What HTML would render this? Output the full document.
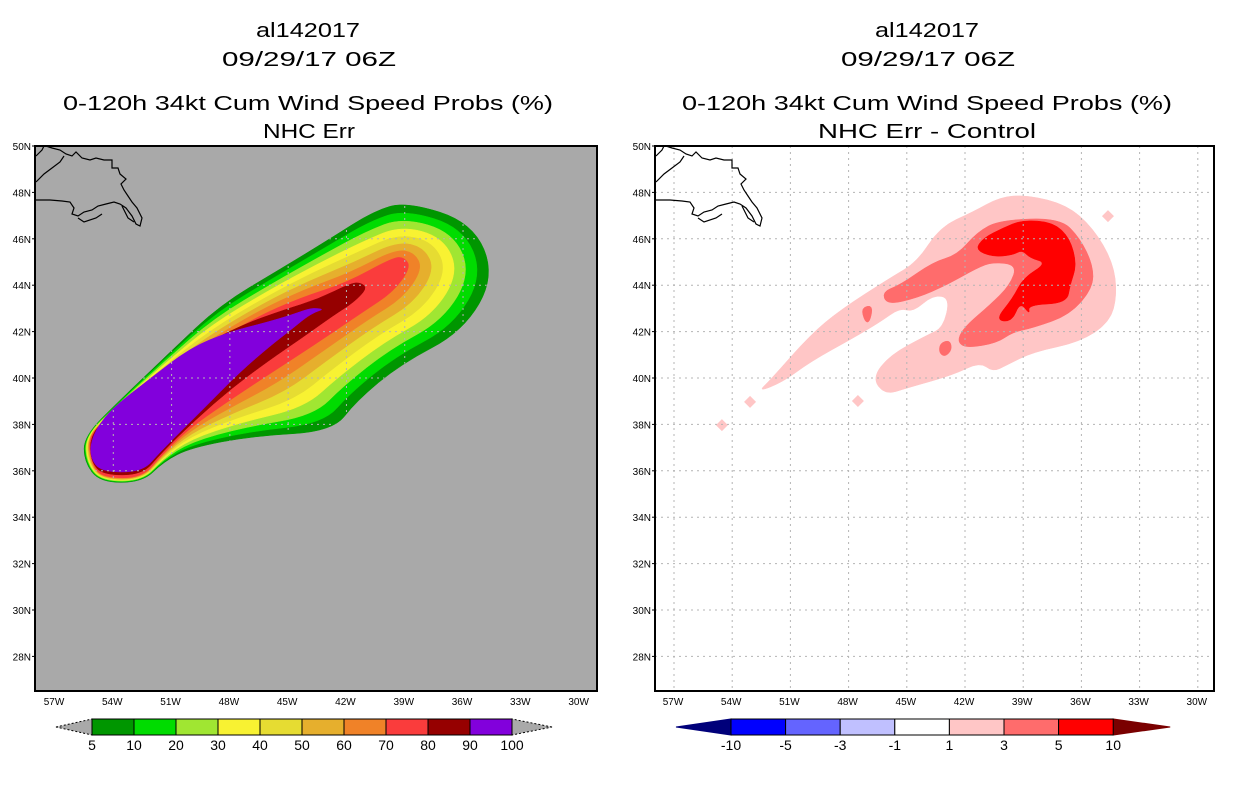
<!DOCTYPE html>
<html><head><meta charset="utf-8"><style>
html,body{margin:0;padding:0;background:#fff;}
svg{display:block;font-family:"Liberation Sans",sans-serif;}
</style></head><body>
<svg id="fig" width="1236" height="800" viewBox="0 0 1236 800" xmlns="http://www.w3.org/2000/svg">
<defs>
<clipPath id="clipL"><rect x="35" y="146" width="562" height="545"/></clipPath>
<clipPath id="clipR"><rect x="655" y="146" width="559" height="545"/></clipPath>
<clipPath id="swathClip"><path id="swathClipPoly" d=""/></clipPath>
</defs>
<g id="titles" font-size="20" text-anchor="middle" fill="#000">
<text x="308" y="37" textLength="104" lengthAdjust="spacingAndGlyphs">al142017</text>
<text x="309" y="66" textLength="174" lengthAdjust="spacingAndGlyphs">09/29/17 06Z</text>
<text x="308" y="110" textLength="490" lengthAdjust="spacingAndGlyphs">0-120h 34kt Cum Wind Speed Probs (%)</text>
<text x="309" y="138" textLength="92" lengthAdjust="spacingAndGlyphs">NHC Err</text>
<text x="927" y="37" textLength="104" lengthAdjust="spacingAndGlyphs">al142017</text>
<text x="928" y="66" textLength="174" lengthAdjust="spacingAndGlyphs">09/29/17 06Z</text>
<text x="927" y="110" textLength="490" lengthAdjust="spacingAndGlyphs">0-120h 34kt Cum Wind Speed Probs (%)</text>
<text x="927" y="138" textLength="218" lengthAdjust="spacingAndGlyphs">NHC Err - Control</text>
</g>
<g id="left-map"></g>
<g id="right-map"></g>
<g id="left-colorbar"></g>
<g id="right-colorbar"></g>
</svg>
<script>
// ---- data ----
const outerContour = [[-55.5,37.5],[-55.5,36.4],[-54.7,35.5],[-52.5,35.5],[-51.4,36.4],[-50.0,37.0],[-46.8,37.5],[-42.7,37.7],[-41.5,39.0],[-39.2,40.6],[-36.0,42.0],[-34.35,44.4],[-35.5,46.7],[-38.9,47.6],[-40.6,47.2],[-42.85,46.0],[-45.4,44.7],[-48.5,43.15],[-51.1,41.1],[-53.65,39.05]];
const midContour = [[-55.3,37.5],[-55.1,36.25],[-54.5,35.7],[-52.5,35.7],[-51.5,36.7],[-50.05,37.85],[-48.35,38.85],[-46.1,40.1],[-43.7,41.4],[-41.15,42.85],[-39.6,43.7],[-38.7,44.75],[-39.0,45.2],[-39.6,45.2],[-42.0,44.1],[-44.4,43.45],[-46.7,42.6],[-49.5,41.2],[-52.1,39.7],[-54.2,38.3]];
const innerContour = [[-55.1,37.5],[-55.2,36.55],[-54.6,35.95],[-52.5,35.95],[-51.6,36.8],[-49.5,38.55],[-47.5,40.25],[-45.9,41.4],[-44.9,42.05],[-44.1,42.6],[-43.6,42.85],[-43.2,42.95],[-43.45,43.0],[-43.9,43.0],[-44.9,42.7],[-46.1,42.4],[-48.0,42.0],[-50.05,41.3],[-52.3,39.85],[-54.2,38.6]];
const probLevels = [5,10,20,30,40,50,60,70,80,90,100];
const probColors = ['#009600','#00dc00','#a0e632','#f8f232','#e6dc32','#e6af2d','#f08228','#fa3c3c','#960000','#8200dc'];

const diffLight = [[-52.67,39.4],[-52.05,39.9],[-49.99,41.85],[-48.44,42.93],[-45.87,44.31],[-44.47,45.0],[-43.29,46.51],[-41.59,47.16],[-40.2,47.8],[-38.8,47.89],[-36.74,47.46],[-35.4,46.47],[-34.37,45.0],[-34.16,43.58],[-34.53,42.41],[-36.07,41.55],[-38.49,41.12],[-39.84,40.56],[-40.56,40.26],[-41.23,40.69],[-42.62,40.13],[-44.99,39.57],[-46.12,39.27],[-46.79,40.0],[-45.87,40.99],[-43.96,41.85],[-43.13,42.16],[-42.77,43.45],[-43.65,43.58],[-44.68,42.84],[-45.35,43.02],[-46.38,42.41],[-47.77,41.72],[-49.99,40.69],[-51.38,39.83]];
const diffMedium = [[-46.28,43.71],[-45.35,44.01],[-43.65,45.0],[-42.41,45.3],[-41.38,46.29],[-40.2,46.81],[-37.1,46.9],[-36.07,46.03],[-35.4,44.87],[-35.4,43.88],[-36.59,42.72],[-38.49,42.16],[-39.53,41.98],[-40.35,41.51],[-41.9,41.29],[-42.41,41.55],[-42.1,42.16],[-40.71,43.15],[-39.68,44.01],[-39.32,44.87],[-40.56,45.0],[-41.38,44.74],[-42.93,44.01],[-44.47,43.45],[-46.02,43.15]];
const diffMediumBlobA = [[-47.36,43.02],[-46.74,43.15],[-46.9,42.41],[-47.16,42.41]];
const diffMediumBlobB = [[-43.29,41.51],[-42.77,41.64],[-42.67,41.21],[-43.03,40.91],[-43.34,41.08]];
const diffRed = [[-41.48,45.52],[-41.07,46.03],[-40.04,46.47],[-39.06,46.81],[-37.46,46.72],[-36.59,46.03],[-36.23,44.87],[-36.59,44.01],[-36.74,43.23],[-38.75,43.15],[-38.65,42.72],[-39.16,43.28],[-39.58,42.41],[-40.45,42.5],[-39.53,43.45],[-39.01,44.31],[-37.77,44.96],[-38.65,45.17],[-39.06,45.52],[-39.53,45.3],[-40.56,45.22]];
const diffDots = [[-53.08,38.97],[-47.52,39.01],[-54.53,37.97],[-34.63,46.98]];

const latTicks = [50,48,46,44,42,40,38,36,34,32,30,28];
const lonTicks = [-57,-54,-51,-48,-45,-42,-39,-36,-33,-30];
const diffLevels = ['-10','-5','-3','-1','1','3','5','10'];
const diffColors = ['#0000ff','#6464ff','#c0c0ff','#ffffff','#ffc6c6','#ff6c6c','#ff0000'];

// ---- projection ----
const NS='http://www.w3.org/2000/svg';
function yLat(lat){return 146+(50-lat)*23.2;}
function xLonL(lon){return 55+(lon+57)*19.43;}
function xLonR(lon){return 674+(lon+57)*19.4;}
function mk(tag,attrs,parent){const e=document.createElementNS(NS,tag);for(const k in attrs)e.setAttribute(k,attrs[k]);parent.appendChild(e);return e;}
function pts(arr,fx){return arr.map(p=>fx(p[0]).toFixed(1)+','+yLat(p[1]).toFixed(1)).join(' ');}
function smoothPath(arr,fx){
  const P=arr.map(p=>[fx(p[0]),yLat(p[1])]);const n=P.length;
  const mid=(a,b)=>[(a[0]+b[0])/2,(a[1]+b[1])/2];
  let m0=mid(P[n-1],P[0]);let d='M'+m0[0].toFixed(1)+','+m0[1].toFixed(1);
  for(let i=0;i<n;i++){const m=mid(P[i],P[(i+1)%n]);d+=' Q'+P[i][0].toFixed(1)+','+P[i][1].toFixed(1)+' '+m[0].toFixed(1)+','+m[1].toFixed(1);}
  return d+'Z';
}
function lerpPoly(a,b,t){return a.map((p,i)=>[p[0]+(b[i][0]-p[0])*t,p[1]+(b[i][1]-p[1])*t]);}

function drawGrid(g,fx,x0,x1,clip){
  const gg=mk('g',{stroke:'#b4b4b4','stroke-width':1,'stroke-dasharray':'2,4'},g);
  if(clip) gg.setAttribute('clip-path',clip);
  
  
  latTicks.forEach(l=>{if(l<50)mk('line',{x1:x0,x2:x1,y1:yLat(l),y2:yLat(l)},gg);});
  lonTicks.forEach(l=>{mk('line',{x1:fx(l),x2:fx(l),y1:146,y2:691},gg);});
}
function drawAxes(g,x0,x1,fx){
  mk('rect',{x:x0,y:146,width:x1-x0,height:545,fill:'none',stroke:'#000','stroke-width':2},g);
  const tg=mk('g',{'font-size':10,fill:'#000'},g);
  latTicks.forEach(l=>{
    const t=mk('text',{x:x0-4,y:yLat(l)+4,'text-anchor':'end'},tg);
    t.textContent=l+'N';
    
    
    mk('line',{x1:x0-3,x2:x0,y1:yLat(l),y2:yLat(l),stroke:'#000'},tg);
  });
  lonTicks.forEach(l=>{
    const t=mk('text',{x:fx(l)-1,y:705,'text-anchor':'middle'},tg);
    t.textContent=Math.abs(l)+'W';
    
    
  });
}
function drawCoast(g,x0){
  const lines=[
    [[0,54],[14,54],[26,55],[34,56],[38,62],[36,68],[42,70],[48,66],[56,64],[62,60],[70,58],[78,56],[84,58],[90,62],[96,70],[100,78],[104,80],[106,72],[101,62],[96,56],[92,50],[88,44],[85,38],[90,33],[84,28],[82,22],[76,22],[76,14],[68,14],[60,12],[54,14],[46,12],[40,6],[36,10],[30,8],[24,4],[16,2],[10,0]],
    [[0,36],[8,28],[16,22],[24,16],[28,10]],
    [[0,10],[6,4],[8,0]],
    [[42,72],[48,76],[60,72],[66,68]],
    [[86,60],[92,72],[98,76]]
  ];
  const cg=mk('g',{fill:'none',stroke:'#000','stroke-width':1.2},g);
  
  
  lines.forEach(l=>mk('polyline',{points:l.map(p=>(x0+1+p[0])+','+(146+p[1])).join(' ')},cg));
}

// ---- left map ----
const L=document.getElementById('left-map');
mk('rect',{x:35,y:146,width:562,height:545,fill:'#a9a9a9'},L);
const sw=mk('g',{'clip-path':'url(#clipL)'},L);
for(let k=0;k<10;k++){
  let poly;
  if(k<=7) poly=lerpPoly(outerContour,midContour,k/7);
  else poly=lerpPoly(midContour,innerContour,(k-7)/2);
  const p=mk('path',{d:smoothPath(poly,xLonL),fill:probColors[k],stroke:probColors[k],'stroke-width':0.5},sw);
  
  
}
document.getElementById('swathClipPoly').setAttribute('d',smoothPath(outerContour,xLonL));
drawGrid(L,xLonL,35,597,'url(#swathClip)');
drawCoast(L,35);
drawAxes(L,35,597,xLonL);

// ---- right map ----
const R=document.getElementById('right-map');
mk('rect',{x:655,y:146,width:559,height:545,fill:'#ffffff'},R);
const dg=mk('g',{'clip-path':'url(#clipR)'},R);
[[diffLight,diffColors[4],'diff-1-to-3'],[diffMedium,diffColors[5],'diff-3-to-5'],[diffMediumBlobA,diffColors[5],'diff-blob-a'],[diffMediumBlobB,diffColors[5],'diff-blob-b'],[diffRed,diffColors[6],'diff-5-to-10']].forEach(s=>{
  const p=mk('path',{d:smoothPath(s[0],xLonR),fill:s[1],stroke:s[1],'stroke-width':0.5},dg);
  
  
});
diffDots.forEach(d=>{
  const x=xLonR(d[0]),y=yLat(d[1]);
  const p=mk('polygon',{points:`${x-6},${y} ${x},${y-6} ${x+6},${y} ${x},${y+6}`,fill:diffColors[4]},dg);
  
  
});
drawGrid(R,xLonR,655,1214,null);
drawCoast(R,655);
drawAxes(R,655,1214,xLonR);

// ---- colorbars ----
function colorbar(g,x0,w,colors,labels,leftTri,rightTri,triW1,triW2,dashed){
  const y0=719,h=16,yc=727;
  const lt=mk('polygon',{points:`${x0-triW1},${yc} ${x0},${y0} ${x0},${y0+h}`,fill:leftTri,stroke:dashed?'#000':leftTri,'stroke-dasharray':dashed?'2,2':'none','stroke-width':1},g);
  
  
  const xe=x0+w*colors.length;
  const rt=mk('polygon',{points:`${xe+triW2},${yc} ${xe},${y0} ${xe},${y0+h}`,fill:rightTri,stroke:dashed?'#000':rightTri,'stroke-dasharray':dashed?'2,2':'none','stroke-width':1},g);
  
  
  colors.forEach((c,i)=>{
    const r=mk('rect',{x:x0+i*w,y:y0,width:w,height:h,fill:c,stroke:'#000','stroke-width':1},g);
    
    
  });
  labels.forEach((l,i)=>{
    const t=mk('text',{x:x0+i*w,y:750,'text-anchor':'middle','font-size':14,fill:'#000'},g);
    t.textContent=l;
    
    
  });
}
colorbar(document.getElementById('left-colorbar'),92,42,probColors,probLevels.map(String),'#a9a9a9','#a9a9a9',36,40,true);
colorbar(document.getElementById('right-colorbar'),731,54.6,diffColors,diffLevels,'#00007a','#7a0000',55,57,false);
</script>
</body></html>
